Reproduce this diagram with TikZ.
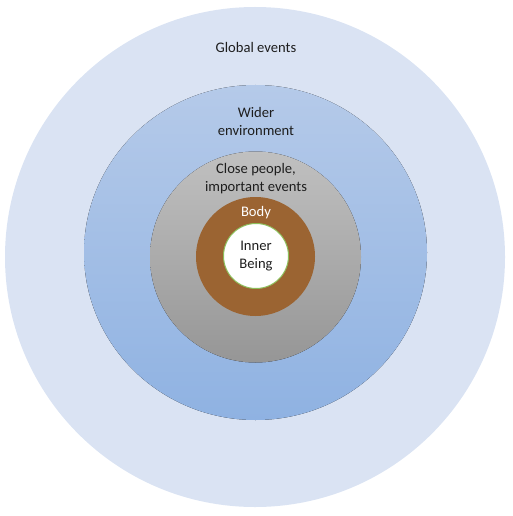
\documentclass[tikz,border=0pt]{standalone}
\usepackage{fontspec}
\setmainfont{Carlito}
\usepackage{tikz}
\usepackage{xcolor}
\definecolor{globalblue}{RGB}{218,227,243}
\definecolor{widertop}{RGB}{181,202,233}
\definecolor{widerbot}{RGB}{143,178,226}
\definecolor{closetop}{RGB}{192,192,192}
\definecolor{closebot}{RGB}{150,150,150}
\definecolor{bodybrown}{RGB}{155,100,50}
\definecolor{innerrim}{RGB}{140,190,90}
\definecolor{labeltext}{RGB}{30,30,30}

\begin{document}
\begin{tikzpicture}[x=1pt,y=-1pt,
  lbl/.style={align=center,text=labeltext,font=\fontsize{14.6}{18}\selectfont,inner sep=0pt}]
\useasboundingbox (0,0) rectangle (513,516);
% rings, from outside in
\fill[globalblue] (255,257) circle[radius=250];
\fill[top color=widertop,bottom color=widerbot] (255.5,252.5) ellipse[x radius=171.5,y radius=167.5];
\fill[top color=closetop,bottom color=closebot] (255.5,257) circle[radius=105.5];
\fill[bodybrown] (255.5,256.5) circle[radius=59.5];
\draw[fill=white,draw=innerrim,line width=1pt] (256,256) circle[radius=32.5];
% labels
\node[lbl] (global) at (256,47) {Global events};
\node[lbl] (wider) at (256,121) {Wider\\environment};
\node[lbl] (close) at (256,178.5) {Close people,\\important events};
\node[lbl,text=white] (body) at (256,213) {Body};
\node[lbl] (inner) at (256,256) {Inner\\Being};
\end{tikzpicture}
\end{document}
